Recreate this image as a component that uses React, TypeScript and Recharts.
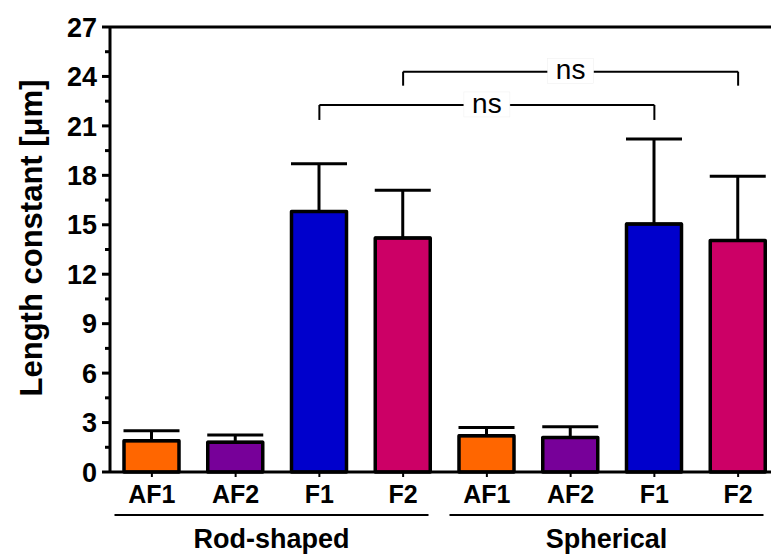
import React from "react";
import {
  BarChart,
  Bar,
  Cell,
  XAxis,
  YAxis,
  ErrorBar,
  ReferenceLine,
} from "recharts";

const categories = [
  "Rod AF1",
  "Rod AF2",
  "Rod F1",
  "Rod F2",
  "Sph AF1",
  "Sph AF2",
  "Sph F1",
  "Sph F2",
];
const tickLabels = ["AF1", "AF2", "F1", "F2", "AF1", "AF2", "F1", "F2"];
const groups = [
  "Rod-shaped",
  "Rod-shaped",
  "Rod-shaped",
  "Rod-shaped",
  "Spherical",
  "Spherical",
  "Spherical",
  "Spherical",
];
const means = [1.9, 1.8, 15.8, 14.2, 2.2, 2.1, 15.05, 14.05];
const sdUp = [0.6, 0.45, 2.9, 2.9, 0.5, 0.65, 5.15, 3.9];
const barColors = [
  "#FF6600",
  "#770099",
  "#0000CC",
  "#CC0066",
  "#FF6600",
  "#770099",
  "#0000CC",
  "#CC0066",
];
const yTicks = [0, 1.5, 3, 4.5, 6, 7.5, 9, 10.5, 12, 13.5, 15, 16.5, 18, 19.5, 21, 22.5, 24, 25.5, 27];

// significance brackets: from/to category, bracket height, leg bottom
const bracketFrom = ["Rod F1", "Rod F2"];
const bracketTo = ["Sph F1", "Sph F2"];
const bracketY = [22.27, 24.29];
const bracketLegY = [21.36, 23.44];
const bracketText = ["ns", "ns"];

const data = categories.map((id, i) => ({
  id,
  group: groups[i],
  mean: means[i],
  err: [0, sdUp[i]],
}));

const FONT = "'Liberation Sans', Arial, sans-serif";

const YTick = (props: any) => {
  const { x, y, payload } = props;
  const major = payload.value % 3 === 0;
  return (
    <g>
      <line x1={x} x2={x - (major ? 8 : 5)} y1={y} y2={y} stroke="#000" strokeWidth={3} />
      {major && (
        <text
          x={x - 13}
          y={y}
          dy="0.36em"
          textAnchor="end"
          fontFamily={FONT}
          fontWeight="bold"
          fontSize={27}
          fill="#000"
        >
          {payload.value}
        </text>
      )}
    </g>
  );
};

const XTick = (props: any) => {
  const { x, y, payload } = props;
  const idx = categories.indexOf(payload.value);
  return (
    <g>
      <line x1={x} x2={x} y1={y} y2={y + 5} stroke="#000" strokeWidth={2} />
      <text
        x={x}
        y={y + 31}
        textAnchor="middle"
        fontFamily={FONT}
        fontWeight="bold"
        fontSize={25}
        fill="#000"
      >
        {tickLabels[idx]}
      </text>
    </g>
  );
};

const GroupTick = (props: any) => {
  const { x, y, payload } = props;
  const cx = x - 6;
  return (
    <g>
      <line x1={cx - 157} x2={cx + 157} y1={y + 3} y2={y + 3} stroke="#000" strokeWidth={2} />
      <text
        x={cx}
        y={y + 36}
        textAnchor="middle"
        fontFamily={FONT}
        fontWeight="bold"
        fontSize={27}
        fill="#000"
      >
        {payload.value}
      </text>
    </g>
  );
};

const NsLabel = (text: string) => (props: any) => {
  const vb = props.viewBox || {};
  const cx = vb.x + vb.width / 2;
  const cy = vb.y;
  return (
    <g>
      <rect x={cx - 23} y={cy - 13} width={46} height={25} fill="#fff" stroke="#eee" strokeWidth={0.5} />
      <text
        x={cx}
        y={cy}
        dy="0.27em"
        textAnchor="middle"
        fontFamily={FONT}
        fontSize={28}
        fill="#000"
      >
        {text}
      </text>
    </g>
  );
};

const YLabel = (props: any) => {
  const vb = props.viewBox || { x: 0 };
  const lx = vb.x + 42;
  const ly = 238;
  return (
    <text
      x={lx}
      y={ly}
      transform={`rotate(-90, ${lx}, ${ly})`}
      textAnchor="middle"
      fontFamily={FONT}
      fontWeight="bold"
      fontSize={31}
      fill="#000"
    >
      Length constant [μm]
    </text>
  );
};

export default function App() {
  return (
    <div
      style={{
        position: "absolute",
        left: 0,
        top: 0,
        width: 771,
        height: 555,
        overflow: "hidden",
        background: "#fff",
      }}
    >
      <BarChart
        width={790}
        height={555}
        data={data}
        margin={{ top: 27, right: 10, left: 0, bottom: 0 }}
        barSize={55}
      >
        <XAxis
          dataKey="id"
          height={40}
          interval={0}
          tickSize={0}
          tickMargin={0}
          tickLine={false}
          axisLine={{ stroke: "#000", strokeWidth: 3 }}
          tick={<XTick />}
        />
        <XAxis
          xAxisId="group"
          dataKey="group"
          allowDuplicatedCategory={false}
          height={43}
          interval={0}
          tickSize={0}
          tickMargin={0}
          tickLine={false}
          axisLine={false}
          tick={<GroupTick />}
        />
        <YAxis
          width={110}
          domain={[0, 27]}
          ticks={yTicks}
          interval={0}
          tickSize={0}
          tickMargin={0}
          tickLine={false}
          axisLine={{ stroke: "#000", strokeWidth: 3 }}
          tick={<YTick />}
          label={{ content: <YLabel /> }}
        />
        <ReferenceLine y={27} stroke="#000" strokeWidth={3} />
        <Bar
          dataKey="mean"
          stroke="#000"
          strokeWidth={3.5}
          strokeLinejoin="round"
          isAnimationActive={false}
        >
          {data.map((d, i) => (
            <Cell key={d.id} fill={barColors[i]} />
          ))}
          <ErrorBar
            dataKey="err"
            width={28}
            stroke="#000"
            strokeWidth={3}
            direction="y"
            isAnimationActive={false}
          />
        </Bar>
        {bracketFrom.map((from, i) => (
          <ReferenceLine
            key={`leg1-${i}`}
            segment={[
              { x: from, y: bracketLegY[i] },
              { x: from, y: bracketY[i] },
            ]}
            stroke="#000"
            strokeWidth={2}
          />
        ))}
        {bracketTo.map((to, i) => (
          <ReferenceLine
            key={`leg2-${i}`}
            segment={[
              { x: to, y: bracketLegY[i] },
              { x: to, y: bracketY[i] },
            ]}
            stroke="#000"
            strokeWidth={2}
          />
        ))}
        {bracketFrom.map((from, i) => (
          <ReferenceLine
            key={`top-${i}`}
            segment={[
              { x: from, y: bracketY[i] },
              { x: bracketTo[i], y: bracketY[i] },
            ]}
            stroke="#000"
            strokeWidth={2}
            label={{ content: NsLabel(bracketText[i]) }}
          />
        ))}
      </BarChart>
    </div>
  );
}
